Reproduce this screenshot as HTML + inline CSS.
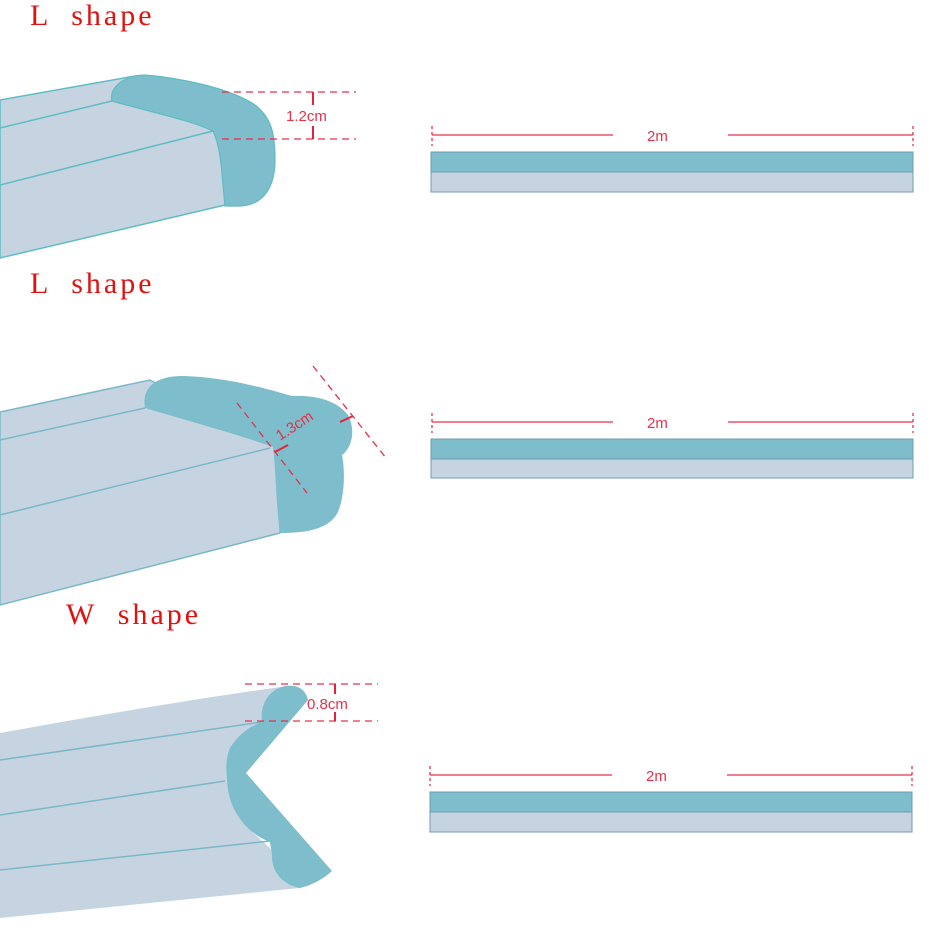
<!DOCTYPE html>
<html><head><style>
html,body{margin:0;padding:0;background:#fff;}
svg{display:block;}
.t{font-family:"Liberation Serif",serif;font-size:30px;fill:#e31010;letter-spacing:3px;}
.d{font-family:"Liberation Sans",sans-serif;font-size:15px;fill:#e8304a;}
</style></head><body>
<svg width="950" height="950" viewBox="0 0 950 950" xmlns="http://www.w3.org/2000/svg">
<text class="t" x="30" y="25" xml:space="preserve">L  shape</text>
<text class="t" x="30" y="293" xml:space="preserve">L  shape</text>
<text class="t" x="66" y="624" xml:space="preserve">W  shape</text>

<!-- Shape 1 -->
<polygon points="0,100 135,76 225,140 225,205 0,258" fill="#c6d4e1" stroke="#5fbcc4" stroke-width="1.5"/>
<line x1="0" y1="128" x2="112" y2="101" stroke="#5fbcc4" stroke-width="1.5"/>
<line x1="0" y1="185" x2="213" y2="131" stroke="#5fbcc4" stroke-width="1.5"/>
<path d="M112,101 C108,88 125,75 145,75 C180,78 230,88 255,105 C272,118 275,135 275,160 C275,185 265,205 240,206 L225,206 C222,180 222,150 213,131 C190,120 150,112 112,101 Z" fill="#7ebdcb" stroke="#5fbcc4" stroke-width="1.2"/>
<g stroke="#e8304a" stroke-width="1.3" stroke-dasharray="7,5">
<line x1="222" y1="92" x2="356" y2="92"/><line x1="222" y1="139" x2="356" y2="139"/>
</g>
<g stroke="#e8203a" stroke-width="2"><line x1="313" y1="92" x2="313" y2="105"/><line x1="313" y1="126" x2="313" y2="139"/></g>
<text class="d" x="286" y="121">1.2cm</text>

<!-- Shape 2 -->
<polygon points="0,412 150,380 280,447 280,533 0,605" fill="#c6d4e1" stroke="#7ab8c8" stroke-width="1.5"/>
<line x1="0" y1="440" x2="145" y2="408" stroke="#7ab8c8" stroke-width="1.5"/>
<line x1="0" y1="515" x2="270" y2="448" stroke="#7ab8c8" stroke-width="1.5"/>
<path d="M145,408 C142,392 150,377 180,376 C220,376 265,388 292,396 C310,395 335,398 348,415 C356,430 352,448 342,455 C345,470 345,495 338,512 C330,528 310,533 280,533 C276,505 276,470 273,447 C230,432 185,420 145,408 Z" fill="#7ebdcb"/>
<g stroke="#e8304a" stroke-width="1.3" stroke-dasharray="7,5">
<line x1="313" y1="366" x2="386" y2="458"/><line x1="237" y1="403" x2="307" y2="493"/>
</g>
<g stroke="#e8203a" stroke-width="2"><line x1="275" y1="452" x2="288" y2="445"/><line x1="340" y1="422" x2="353" y2="416"/></g>
<text class="d" x="0" y="0" transform="translate(280,441) rotate(-33)">1.3cm</text>

<!-- Shape 3 -->
<path d="M0,733 C100,715 200,698 288,686 L262,722 L232,748 L228,790 L250,830 L272,850 L300,888 C200,898 100,908 0,918 Z" fill="#c6d4e1"/>
<line x1="0" y1="760" x2="262" y2="722" stroke="#7ab8c8" stroke-width="1.5"/>
<line x1="0" y1="815" x2="225" y2="781" stroke="#7ab8c8" stroke-width="1.5"/>
<line x1="0" y1="870" x2="270" y2="841" stroke="#7ab8c8" stroke-width="1.5"/>
<path d="M262,722 C260,705 268,690 285,686 C298,684 306,690 308,700 L246,773 L332,871 C322,880 312,885 300,888 C285,885 273,875 272,858 C272,850 270,845 270,842 C250,835 232,815 228,790 C226,770 225,760 230,748 C238,735 250,726 262,722 Z" fill="#7ebdcb"/>
<g stroke="#e8304a" stroke-width="1.3" stroke-dasharray="7,5">
<line x1="245" y1="684" x2="378" y2="684"/><line x1="245" y1="721" x2="378" y2="721"/>
</g>
<g stroke="#e8203a" stroke-width="2"><line x1="335" y1="684" x2="335" y2="694"/><line x1="335" y1="712" x2="335" y2="721"/></g>
<text class="d" x="307" y="709">0.8cm</text>

<!-- Right bars -->
<g stroke="#e8304a" stroke-width="1.3">
<line x1="432" y1="135" x2="613" y2="135"/><line x1="728" y1="135" x2="913" y2="135"/>
<line x1="432" y1="422" x2="613" y2="422"/><line x1="728" y1="422" x2="913" y2="422"/>
<line x1="430" y1="775" x2="612" y2="775"/><line x1="727" y1="775" x2="912" y2="775"/>
</g>
<g stroke="#e8304a" stroke-width="1.3" stroke-dasharray="3,3">
<line x1="432" y1="126" x2="432" y2="146"/><line x1="913" y1="126" x2="913" y2="146"/>
<line x1="432" y1="413" x2="432" y2="433"/><line x1="913" y1="413" x2="913" y2="433"/>
<line x1="430" y1="766" x2="430" y2="786"/><line x1="912" y1="766" x2="912" y2="786"/>
</g>
<text class="d" x="647" y="141">2m</text>
<text class="d" x="647" y="428">2m</text>
<text class="d" x="646" y="781">2m</text>
<g stroke="#6f9db2" stroke-width="1">
<rect x="431" y="152" width="482" height="20" fill="#7ebdcb"/>
<rect x="431" y="172" width="482" height="20" fill="#c6d4e1"/>
<rect x="431" y="439" width="482" height="20" fill="#7ebdcb"/>
<rect x="431" y="459" width="482" height="19" fill="#c6d4e1"/>
<rect x="430" y="792" width="482" height="20" fill="#7ebdcb"/>
<rect x="430" y="812" width="482" height="20" fill="#c6d4e1"/>
</g>
</svg>
</body></html>
